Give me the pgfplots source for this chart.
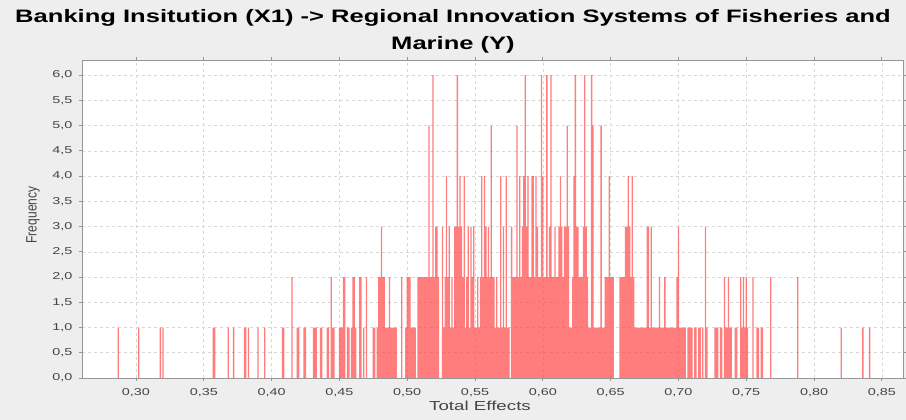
\documentclass[border=0pt]{standalone}
\usepackage{pgfplots}
\pgfplotsset{compat=1.18}
\usepackage{fontspec}
\setmainfont{Liberation Sans}
\definecolor{bg}{RGB}{238,238,238}
\definecolor{barred}{RGB}{255,70,70}
\definecolor{ticktext}{RGB}{68,68,68}
\definecolor{gridc}{RGB}{215,215,215}
\definecolor{axisc}{RGB}{150,150,150}
\begin{document}
\begin{tikzpicture}[x=1pt,y=1pt]
\fill[bg] (0,0) rectangle (906,420);
\useasboundingbox (0,0) rectangle (906,420);
\begin{axis}[
  at={(82pt,42pt)}, anchor=south west,
  scale only axis, width=821pt, height=318pt,
  xmin=0.2602, xmax=0.8656, ymin=0, ymax=6.3,
  axis background/.style={fill=white},
  xtick={0.30,0.35,0.40,0.45,0.50,0.55,0.60,0.65,0.70,0.75,0.80,0.85},
  ytick={0,0.5,1,1.5,2,2.5,3,3.5,4,4.5,5,5.5,6},
  xticklabel={\scalebox{1.44}[1]{\pgfmathprintnumber[fixed,fixed zerofill,precision=2,use comma,assume math mode=true]{\tick}}},
  yticklabel={\scalebox{1.44}[1]{\pgfmathprintnumber[fixed,fixed zerofill,precision=1,use comma,assume math mode=true]{\tick}}},
  tick label style={font=\fontsize{10}{12}\selectfont, text=ticktext},
  xtick align=outside, ytick align=outside,
  major tick length=3pt,
  tick style={axisc, line width=0.8pt},
  axis line style={axisc, line width=0.8pt},
  xmajorgrids, ymajorgrids,
  major grid style={gridc, dash pattern=on 3pt off 3pt, line width=0.6pt},
  xticklabel style={yshift=-4pt},
  yticklabel style={xshift=-3pt},
]
\addplot[ybar, bar width=0.00095, bar shift=0pt, draw=none, fill=barred, fill opacity=0.7] table {
x y
0.287 1
0.302 1
0.318 1
0.320 1
0.357 1
0.358 1
0.368 1
0.372 1
0.380 1
0.381 1
0.383 1
0.390 1
0.395 1
0.408 1
0.409 1
0.415 2
0.419 1
0.420 1
0.424 1
0.425 1
0.431 1
0.432 1
0.433 1
0.436 1
0.437 1
0.441 1
0.442 1
0.444 2
0.445 1
0.446 1
0.450 1
0.451 1
0.452 1
0.453 2
0.454 2
0.456 1
0.457 1
0.459 1
0.460 2
0.461 2
0.462 1
0.465 2
0.466 2
0.468 1
0.470 2
0.475 1
0.476 1
0.478 1
0.479 2
0.480 2
0.481 3
0.482 2
0.483 2
0.484 1
0.485 1
0.486 1
0.487 2
0.488 1
0.489 1
0.490 1
0.491 1
0.492 1
0.496 2
0.499 1
0.500 2
0.501 2
0.502 2
0.503 1
0.504 1
0.505 1
0.506 1
0.508 2
0.509 2
0.510 2
0.511 2
0.512 2
0.513 2
0.514 2
0.515 2
0.516 5
0.517 2
0.518 2
0.519 6
0.520 2
0.521 3
0.522 3
0.523 2
0.526 3
0.527 1
0.528 2
0.529 4
0.530 2
0.531 3
0.532 1
0.533 2
0.534 1
0.535 3
0.536 3
0.537 6
0.538 3
0.539 4
0.540 3
0.541 2
0.542 4
0.543 1
0.544 2
0.545 3
0.546 1
0.547 3
0.548 2
0.549 3
0.550 1
0.551 1
0.552 2
0.553 1
0.554 2
0.555 4
0.556 2
0.557 4
0.558 3
0.559 2
0.560 3
0.561 2
0.562 5
0.563 2
0.564 2
0.565 1
0.566 2
0.567 1
0.568 1
0.569 4
0.570 1
0.571 3
0.572 1
0.573 4
0.574 1
0.575 1
0.577 3
0.578 2
0.579 2
0.580 2
0.581 5
0.582 2
0.583 4
0.584 2
0.585 3
0.586 4
0.587 6
0.588 3
0.589 4
0.590 2
0.591 2
0.592 4
0.593 4
0.594 2
0.595 4
0.596 3
0.597 2
0.598 2
0.599 6
0.600 4
0.601 2
0.602 2
0.603 6
0.604 2
0.605 3
0.606 6
0.607 2
0.608 2
0.609 3
0.610 2
0.611 2
0.612 3
0.613 4
0.614 3
0.615 2
0.616 3
0.617 3
0.618 5
0.619 3
0.620 1
0.621 1
0.622 2
0.623 4
0.624 6
0.625 3
0.626 3
0.627 2
0.628 2
0.629 2
0.630 3
0.631 6
0.632 3
0.633 2
0.634 1
0.635 1
0.636 6
0.637 5
0.638 1
0.639 1
0.640 1
0.641 1
0.642 1
0.643 5
0.644 1
0.645 1
0.646 2
0.647 2
0.648 2
0.649 4
0.650 2
0.651 2
0.652 2
0.657 2
0.658 2
0.659 2
0.660 2
0.661 3
0.662 3
0.663 4
0.664 3
0.665 2
0.666 4
0.667 2
0.668 1
0.669 1
0.670 1
0.671 1
0.672 1
0.673 1
0.674 1
0.675 1
0.676 1
0.677 3
0.678 3
0.679 1
0.680 3
0.681 1
0.682 1
0.683 1
0.684 1
0.685 1
0.686 2
0.687 1
0.688 1
0.689 1
0.690 2
0.691 1
0.692 1
0.693 1
0.694 1
0.695 1
0.696 1
0.697 1
0.698 1
0.699 2
0.700 3
0.701 1
0.702 1
0.703 1
0.704 1
0.705 1
0.707 1
0.708 1
0.709 1
0.710 1
0.712 1
0.713 1
0.715 1
0.716 1
0.718 1
0.720 3
0.721 1
0.727 1
0.728 1
0.729 1
0.731 1
0.732 1
0.734 2
0.735 1
0.736 1
0.737 2
0.738 1
0.739 1
0.742 1
0.743 1
0.746 2
0.747 1
0.748 2
0.749 1
0.750 2
0.751 1
0.755 2
0.758 1
0.759 1
0.761 1
0.762 1
0.768 2
0.788 2
0.820 1
0.836 1
0.841 1
};
\end{axis}
\node at (453,402) {\scalebox{1.42}[1]{\fontsize{18}{20}\selectfont\bfseries Banking Insitution (X1) -> Regional Innovation Systems of Fisheries and}};
\node at (453,375) {\scalebox{1.42}[1]{\fontsize{18}{20}\selectfont\bfseries Marine (Y)}};
\node[rotate=90, text=ticktext] at (33,205) {\scalebox{1}[1.25]{\fontsize{12}{14}\selectfont Frequency}};
\node[text=ticktext] at (480,14) {\scalebox{1.44}[1]{\fontsize{13}{15}\selectfont Total Effects}};
\end{tikzpicture}
\end{document}
